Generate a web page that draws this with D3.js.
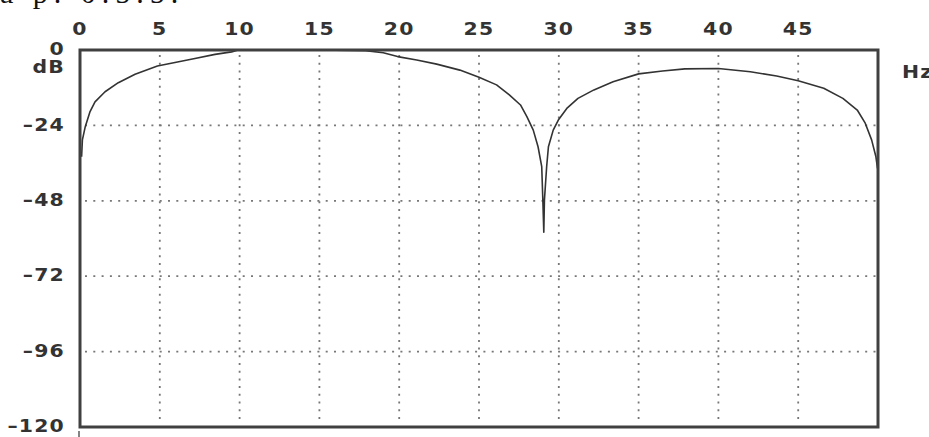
<!DOCTYPE html>
<html>
<head>
<meta charset="utf-8">
<script src="https://cdn.jsdelivr.net/npm/d3@7"></script>
<style>
  html, body { margin: 0; padding: 0; background: #fff; }
  svg { display: block; }
</style>
</head>
<body>
<script>
// Magnitude response of the filter (frequency in Hz, gain in dB)
const freqHz = [
  0.1, 0.15, 0.33, 0.63, 0.94, 1.57, 2.4, 3.45, 4.85, 5.95, 7.2, 8.46, 9.5, 9.9,
  12, 15, 17.9, 19.0, 19.9, 21.1, 22.35, 23.8, 25.0, 26.1, 26.9, 27.6, 28.0, 28.4,
  28.7, 28.93, 29.0, 29.06, 29.1, 29.24, 29.35, 29.65, 29.97, 30.5, 31.2, 32.2,
  33.4, 35.0, 36.5, 37.9, 40.0, 42.0, 43.65, 45.0, 46.6, 47.8, 48.7, 49.2, 49.6,
  49.87, 49.97
];
const gainDb = [
  -34.0, -28.6, -24.4, -19.6, -16.5, -13.3, -10.4, -7.7, -5.1, -4.0, -2.7, -1.4, -0.6, 0,
  0, 0, -0.2, -0.9, -2.1, -3.2, -4.5, -6.4, -8.7, -11.1, -14.3, -17.5, -21.2, -25.5,
  -30.8, -37.1, -47.7, -58.0, -47.7, -37.1, -30.8, -25.5, -22.3, -18.6, -15.4, -12.7,
  -10.1, -7.6, -6.7, -6.0, -5.9, -6.9, -8.3, -9.8, -12.2, -15.4, -19.1, -23.3, -28.6,
  -34.0, -37.7
];

// Axis labels and grid positions
const xTickLabels = [0, 5, 10, 15, 20, 25, 30, 35, 40, 45];
const yTickLabels = [0, -24, -48, -72, -96, -120];
const xGrid = [5, 10, 15, 20, 25, 30, 35, 40, 45];
const yGrid = [-24, -48, -72, -96];
const xUnit = "Hz";
const yUnit = "dB";
const caption = "a p.  0.5.5.";

const W = 929, H = 437;
const ink = "#333";

const x = d3.scaleLinear().domain([0, 50]).range([80, 878]);
const y = d3.scaleLinear().domain([-120, 0]).range([427, 50]);

const svg = d3.select("body").append("svg")
  .attr("width", W).attr("height", H)
  .attr("viewBox", `0 0 ${W} ${H}`);

svg.append("rect").attr("width", W).attr("height", H).attr("fill", "#fff");

// line of body text running off the top edge
svg.append("text")
  .attr("x", 0).attr("y", 3)
  .attr("font-family", "'Liberation Serif', 'Times New Roman', serif")
  .attr("font-size", 30)
  .attr("letter-spacing", 6)
  .attr("fill", "#111")
  .text(caption);

// dotted grid
svg.append("g").selectAll("line").data(yGrid).join("line")
  .attr("x1", x(0) + 5).attr("x2", x(50) - 2)
  .attr("y1", d => y(d)).attr("y2", d => y(d))
  .attr("stroke", "#777").attr("stroke-width", 1.8)
  .attr("stroke-dasharray", "2 6.3");

svg.append("g").selectAll("line").data(xGrid).join("line")
  .attr("x1", d => x(d)).attr("x2", d => x(d))
  .attr("y1", y(0) + 5).attr("y2", y(-120) - 3)
  .attr("stroke", "#777").attr("stroke-width", 1.8)
  .attr("stroke-dasharray", "2 5.7");

// response curve
const line = d3.line()
  .x((d, i) => x(freqHz[i]))
  .y((d, i) => y(gainDb[i]));

svg.append("path")
  .datum(freqHz)
  .attr("d", line)
  .attr("fill", "none")
  .attr("stroke", ink)
  .attr("stroke-width", 1.6)
  .attr("stroke-linejoin", "round");

// plot frame
svg.append("rect")
  .attr("x", x(0)).attr("y", y(0))
  .attr("width", x(50) - x(0)).attr("height", y(-120) - y(0))
  .attr("fill", "none")
  .attr("stroke", "#404040")
  .attr("stroke-width", 3);

svg.append("line")
  .attr("x1", x(0) - 1).attr("x2", x(0) - 1)
  .attr("y1", y(-120) + 4).attr("y2", H)
  .attr("stroke", ink).attr("stroke-width", 1.2);

// label styling: wide bold sans
function styleLabel(sel) {
  sel.attr("font-family", "'DejaVu Sans', Verdana, sans-serif")
    .attr("font-weight", "bold")
    .attr("font-size", 17)
    .attr("letter-spacing", 1)
    .attr("fill", ink);
}
const fmt = d => (d < 0 ? "\u2013" + Math.abs(d) : String(d));

svg.append("g").selectAll("text").data(xTickLabels).join("text")
  .attr("transform", d => `translate(${x(d)},34.5) scale(1.2,1)`)
  .attr("text-anchor", "middle")
  .call(styleLabel)
  .text(d => fmt(d));

svg.append("g").selectAll("text").data(yTickLabels).join("text")
  .attr("transform", d => `translate(65,${y(d)}) scale(1.2,1)`)
  .attr("text-anchor", "end")
  .attr("dy", "0.3em")
  .call(styleLabel)
  .text(d => fmt(d));

svg.append("text")
  .attr("transform", "translate(65,73.3) scale(1.2,1)")
  .attr("text-anchor", "end")
  .call(styleLabel)
  .text(yUnit);

svg.append("text")
  .attr("transform", "translate(902,78.3) scale(1.2,1)")
  .attr("text-anchor", "start")
  .call(styleLabel)
  .text(xUnit);
</script>
</body>
</html>
